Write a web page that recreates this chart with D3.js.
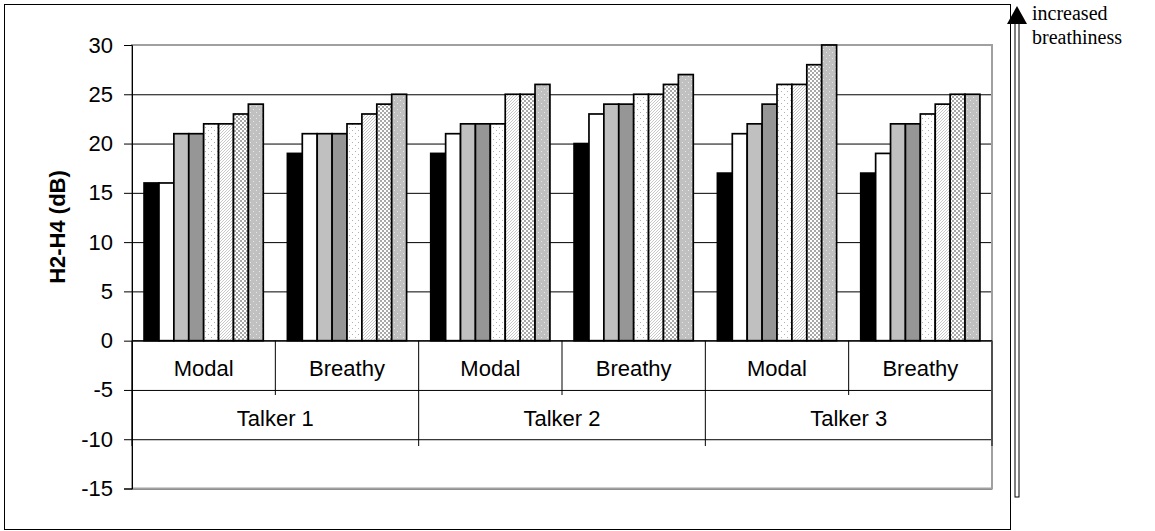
<!DOCTYPE html>
<html>
<head>
<meta charset="utf-8">
<script src="https://cdn.jsdelivr.net/npm/d3@7"></script>
<style>
  body { margin: 0; background: white; }
</style>
</head>
<body>
<div id="canvas"></div>
<script>
"use strict"

// data
let talkers = ["Talker 1", "Talker 2", "Talker 3"];
let voices = ["Modal", "Breathy"];
let yTicks = [-15, -10, -5, 0, 5, 10, 15, 20, 25, 30];

// one array per series, in group order T1 Modal, T1 Breathy, T2 Modal ...
let s1 = [16, 19, 19, 20, 17, 17];
let s2 = [16, 21, 21, 23, 21, 19];
let s3 = [21, 21, 22, 24, 22, 22];
let s4 = [21, 21, 22, 24, 24, 22];
let s5 = [22, 22, 22, 25, 26, 23];
let s6 = [22, 23, 25, 25, 26, 24];
let s7 = [23, 24, 25, 26, 28, 25];
let s8 = [24, 25, 26, 27, 30, 25];
let series = [s1, s2, s3, s4, s5, s6, s7, s8];

let drawingWidth = 1155;
let drawingHeight = 531;

let plotLeft = 132, plotRight = 992, plotTop = 45, plotBottom = 488.5;

let sans = "Arial, 'Liberation Sans', sans-serif";
let serif = "'Times New Roman', 'Liberation Serif', serif";

let drawing = d3.select("#canvas")
    .append("svg")
    .attr("width", drawingWidth)
    .attr("height", drawingHeight)
    .attr("font-family", sans);

// patterns for the bar fills
let defs = drawing.append("defs");

let dots = defs.append("pattern")
    .attr("id", "dots").attr("width", 6).attr("height", 6)
    .attr("patternUnits", "userSpaceOnUse");
dots.append("rect").attr("width", 6).attr("height", 6).attr("fill", "white");
dots.append("rect").attr("x", 1).attr("y", 1).attr("width", 1).attr("height", 1).attr("fill", "#b0b0b0");
dots.append("rect").attr("x", 4).attr("y", 4).attr("width", 1).attr("height", 1).attr("fill", "#b0b0b0");

let hatch = defs.append("pattern")
    .attr("id", "hatch").attr("width", 3).attr("height", 3)
    .attr("patternUnits", "userSpaceOnUse");
hatch.append("rect").attr("width", 3).attr("height", 3).attr("fill", "white");
hatch.append("path").attr("d", "M0,3 L3,0").attr("stroke", "#c8c8c8").attr("stroke-width", 1);

let checker = defs.append("pattern")
    .attr("id", "checker").attr("width", 4).attr("height", 4)
    .attr("patternUnits", "userSpaceOnUse");
checker.append("rect").attr("width", 4).attr("height", 4).attr("fill", "white");
checker.append("rect").attr("width", 2).attr("height", 2).attr("fill", "#a8a8a8");
checker.append("rect").attr("x", 2).attr("y", 2).attr("width", 2).attr("height", 2).attr("fill", "#a8a8a8");

let greyDots = defs.append("pattern")
    .attr("id", "greyDots").attr("width", 6).attr("height", 6)
    .attr("patternUnits", "userSpaceOnUse");
greyDots.append("rect").attr("width", 6).attr("height", 6).attr("fill", "#c0c0c0");
greyDots.append("rect").attr("x", 1).attr("y", 1).attr("width", 1).attr("height", 1).attr("fill", "#e8e8e8");
greyDots.append("rect").attr("x", 4).attr("y", 4).attr("width", 1).attr("height", 1).attr("fill", "#e8e8e8");

let fills = ["black", "white", "#c0c0c0", "#969696",
             "url(#dots)", "url(#hatch)", "url(#checker)", "url(#greyDots)"];

// outer frame
drawing.append("rect")
    .attr("x", 4.5).attr("y", 4.5)
    .attr("width", 1006).attr("height", 525)
    .attr("fill", "white")
    .attr("stroke", "black");

// scales
let groups = [];
talkers.forEach(t => voices.forEach(v => groups.push(t + "|" + v)));

let x = d3.scaleBand().domain(groups).range([plotLeft, plotRight]);
let xInner = d3.scaleBand().domain(d3.range(8))
    .range([0, x.bandwidth()]).paddingOuter(0.81);
let y = d3.scaleLinear().domain([-15, 30]).range([plotBottom, plotTop]);

// gridlines
drawing.append("g")
    .attr("transform", `translate(${plotLeft},0)`)
    .call(d3.axisLeft(y).tickValues(yTicks).tickSize(-(plotRight - plotLeft)).tickFormat(""))
    .call(g => g.select(".domain").remove())
    .selectAll("line").attr("stroke", "black");

// plot area border
drawing.append("rect")
    .attr("x", plotLeft).attr("y", plotTop)
    .attr("width", plotRight - plotLeft).attr("height", plotBottom - plotTop)
    .attr("fill", "none")
    .attr("stroke", "#a0a0a0")
    .attr("stroke-width", 2);

// bars
series.forEach((vals, si) => {
    drawing.append("g")
        .selectAll("rect")
        .data(vals)
        .join("rect")
        .attr("x", (d, i) => x(groups[i]) + xInner(si))
        .attr("y", d => y(d))
        .attr("width", xInner.bandwidth())
        .attr("height", d => y(0) - y(d))
        .attr("fill", fills[si])
        .attr("stroke", "black")
        .attr("stroke-width", 1.7);
});

// y axis
let yAxis = drawing.append("g")
    .attr("transform", `translate(${plotLeft},0)`)
    .call(d3.axisLeft(y).tickValues(yTicks).tickSize(8).tickPadding(11)
        .tickFormat(d => String(d)));
yAxis.select(".domain").attr("stroke", "black");
yAxis.selectAll("line").attr("stroke", "black");
yAxis.selectAll("text")
    .attr("font-size", 22)
    .attr("font-family", sans)
    .attr("fill", "black");

drawing.append("text")
    .attr("transform", `translate(57,227) rotate(-90)`)
    .attr("text-anchor", "middle")
    .attr("dy", "0.35em")
    .attr("font-size", 22)
    .attr("font-weight", "bold")
    .text("H2-H4 (dB)");

// category axis at zero
drawing.append("line")
    .attr("x1", plotLeft).attr("x2", plotRight)
    .attr("y1", y(0)).attr("y2", y(0))
    .attr("stroke", "black");

groups.forEach((g, i) => {
    let gx = x(g);
    let isTalkerEdge = i % 2 === 0;
    drawing.append("line")
        .attr("x1", gx).attr("x2", gx)
        .attr("y1", y(0)).attr("y2", isTalkerEdge ? 446 : 395)
        .attr("stroke", "black");
    drawing.append("text")
        .attr("x", gx + x.bandwidth() / 2)
        .attr("y", 376)
        .attr("text-anchor", "middle")
        .attr("font-size", 22)
        .text(g.split("|")[1]);
});
drawing.append("line")
    .attr("x1", plotRight).attr("x2", plotRight)
    .attr("y1", y(0)).attr("y2", 446)
    .attr("stroke", "black");

talkers.forEach(t => {
    let tx = x(t + "|Modal") + x.bandwidth();
    drawing.append("text")
        .attr("x", tx)
        .attr("y", 426)
        .attr("text-anchor", "middle")
        .attr("font-size", 22)
        .text(t);
});

// arrow on the right
drawing.append("rect")
    .attr("x", 1015).attr("y", 22)
    .attr("width", 4).attr("height", 475)
    .attr("fill", "white")
    .attr("stroke", "black");
drawing.append("polygon")
    .attr("points", "1017,6 1027,24 1007,24")
    .attr("fill", "black");

drawing.append("text")
    .attr("x", 1032).attr("y", 20)
    .attr("font-family", serif)
    .attr("font-size", 20)
    .text("increased");
drawing.append("text")
    .attr("x", 1032).attr("y", 44)
    .attr("font-family", serif)
    .attr("font-size", 20)
    .text("breathiness");
</script>
</body>
</html>
